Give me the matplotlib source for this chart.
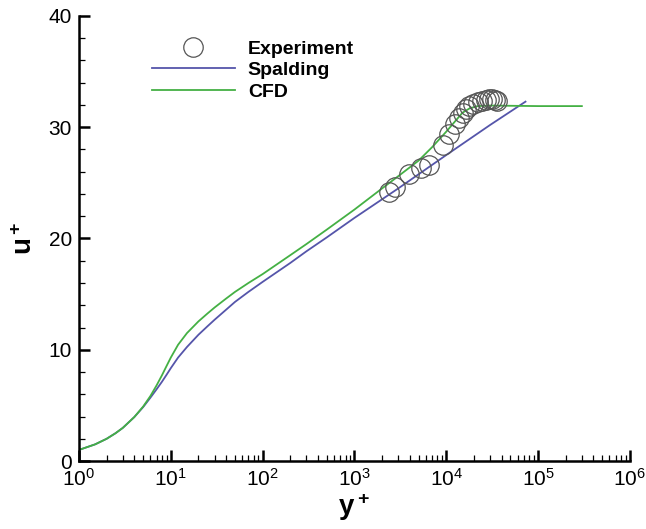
import numpy as np
import matplotlib
matplotlib.use("Agg")
import matplotlib.pyplot as plt
from matplotlib.ticker import LogLocator, MultipleLocator, NullFormatter

plt.rcParams['font.family'] = ['Liberation Sans', 'DejaVu Sans']
plt.rcParams['mathtext.fontset'] = 'custom'
plt.rcParams['mathtext.rm'] = 'Liberation Sans'
plt.rcParams['mathtext.bf'] = 'Liberation Sans:bold'

# experiment
exp_y = [2400, 2800, 3950, 5300, 6550, 9150, 10800, 12600, 13900, 15100,
         16500, 17900, 19800, 22000, 24300, 26800, 29300, 31800, 34000, 35500]
exp_u = [24.2, 24.6, 25.8, 26.3, 26.6, 28.4, 29.4, 30.3, 30.85, 31.25,
         31.6, 31.9, 32.1, 32.3, 32.4, 32.45, 32.5, 32.5, 32.45, 32.4]

# Spalding profile
spal_y = [1, 1.5, 2, 2.5, 3, 4, 5, 6, 7, 8, 9, 10, 12, 15, 20, 25, 30, 40, 50, 70,
          100, 200, 300, 500, 1000, 3000, 10000, 30000, 73000]
spal_u = [1.0, 1.5, 2.0, 2.5, 2.98, 3.95, 4.85, 5.7, 6.45, 7.12, 7.76, 8.35, 9.3,
          10.25, 11.35, 12.1, 12.7, 13.6, 14.3, 15.2, 16.1, 17.8, 18.85, 20.1,
          21.85, 24.5, 27.5, 30.2, 32.3]

# CFD profile
cfd_y = [1, 1.5, 2, 2.5, 3, 4, 5, 6, 7, 8, 9, 10, 12, 15, 20, 25, 30, 40, 50, 70,
         100, 200, 300, 500, 1000, 2000, 3000, 5000, 7000, 10000, 13000, 15000,
         18000, 22000, 30000, 100000, 300000]
cfd_u = [1.0, 1.5, 2.0, 2.5, 2.98, 3.95, 4.9, 5.85, 6.8, 7.7, 8.55, 9.3, 10.45,
         11.5, 12.55, 13.25, 13.8, 14.6, 15.2, 16.0, 16.8, 18.5, 19.5, 20.8,
         22.6, 24.5, 25.6, 27.0, 28.2, 29.6, 30.7, 31.3, 31.7, 31.9, 31.95,
         31.9, 31.9]

fig = plt.figure(figsize=(6.46, 5.29), dpi=100)
ax = fig.add_axes([0.1223, 0.1285, 0.975 - 0.1223, 0.9698 - 0.1285])

ax.plot(exp_y, exp_u, 'o', mfc='none', mec='#555555', mew=0.9, ms=14,
        label='Experiment', zorder=3)
ax.plot(spal_y, spal_u, color='#5555aa', lw=1.3, label='Spalding')
ax.plot(cfd_y, cfd_u, color='#44b044', lw=1.3, label='CFD')

ax.set_xscale('log')
ax.set_xlim(1, 1e6)
ax.set_ylim(0, 40)

ax.xaxis.set_major_locator(LogLocator(base=10, numticks=10))
ax.xaxis.set_minor_locator(LogLocator(base=10, subs=np.arange(2, 10), numticks=20))
ax.xaxis.set_minor_formatter(NullFormatter())
ax.yaxis.set_major_locator(MultipleLocator(10))
ax.yaxis.set_minor_locator(MultipleLocator(2))

for s in ['top', 'right']:
    ax.spines[s].set_visible(False)
for s in ['left', 'bottom']:
    ax.spines[s].set_linewidth(1.8)

ax.tick_params(which='major', direction='in', length=8, width=1.8, labelsize=15, pad=5)
ax.tick_params(which='minor', direction='in', length=4, width=0.9)

ax.set_xlabel(r'$\mathbf{y^+}$', fontsize=20, labelpad=1)
ax.set_ylabel(r'$\mathbf{u^+}$', fontsize=20, labelpad=8)

leg = ax.legend(loc='upper left', bbox_to_anchor=(0.1, 0.985), frameon=False,
                handlelength=4.3, handletextpad=0.65, labelspacing=0.2,
                prop={'weight': 'bold', 'size': 14})

fig.savefig('out.png', dpi=100)
